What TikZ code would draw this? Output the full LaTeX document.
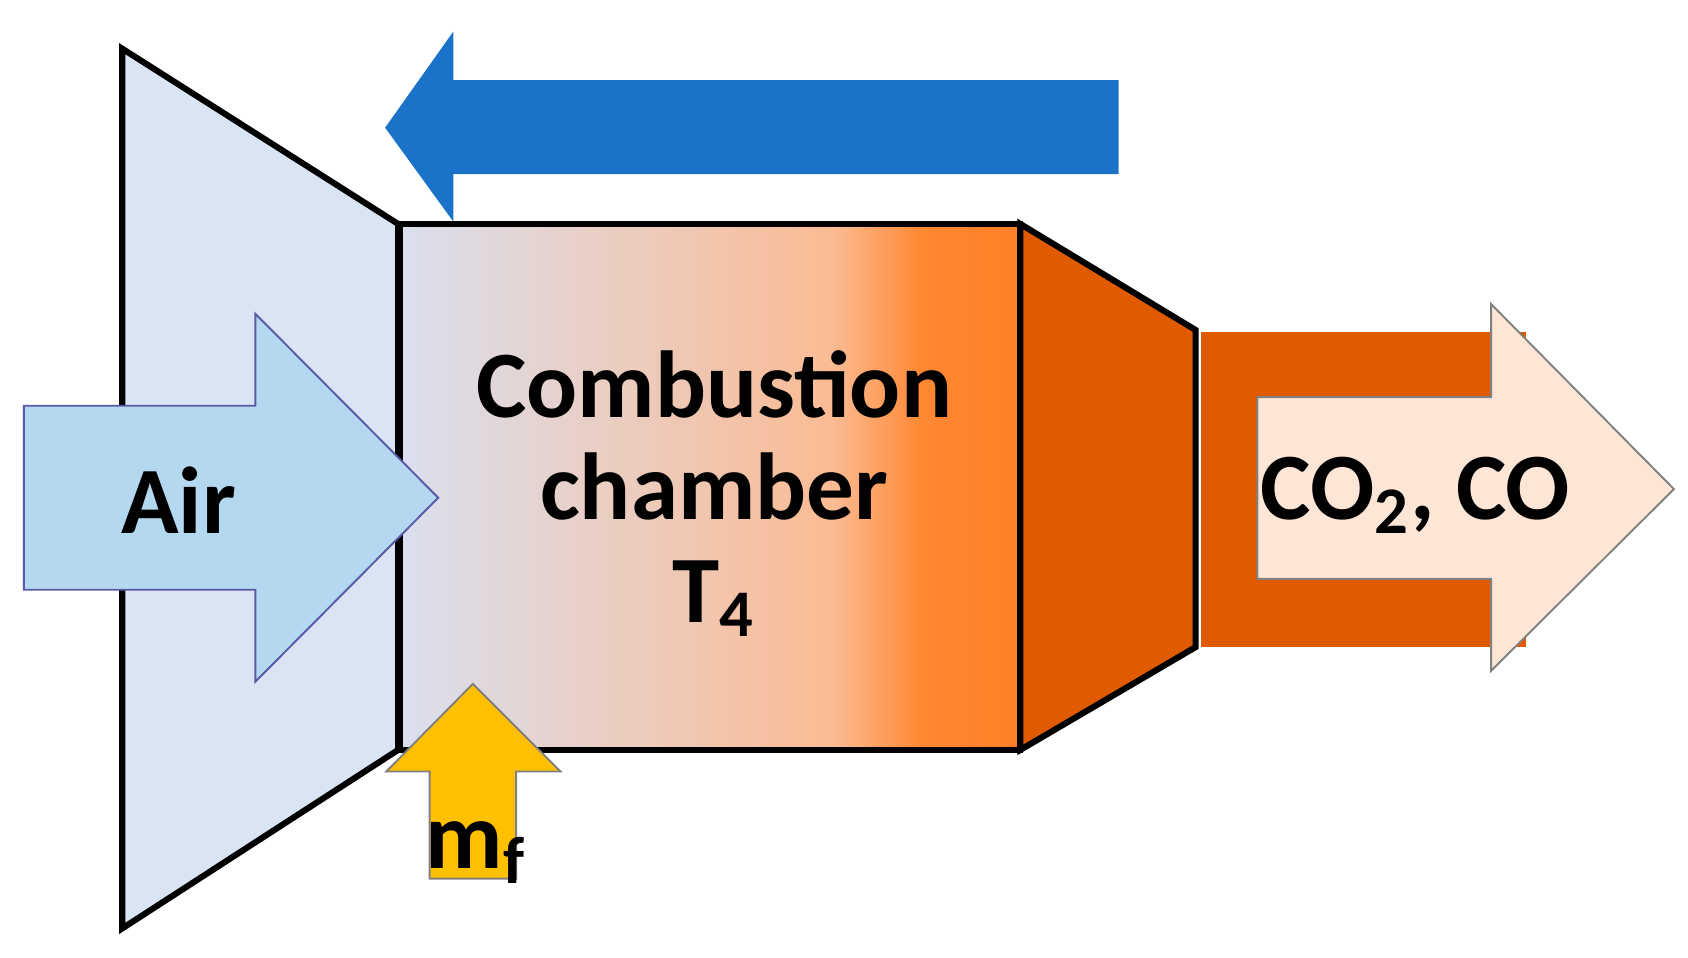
\documentclass[tikz,border=0pt]{standalone}
\usepackage{fontspec}
\setmainfont{Carlito}
\usepackage{tikz}
\definecolor{compblue}{HTML}{D9E5F3}
\definecolor{airblue}{HTML}{B4D8F0}
\definecolor{flowblue}{HTML}{1A73C8}
\definecolor{turbor}{HTML}{E05A00}
\definecolor{gaspeach}{HTML}{FEE6D6}
\definecolor{fuelyel}{HTML}{FFC000}
\definecolor{hotA}{HTML}{DADFEE}
\definecolor{hotB}{HTML}{FBBB93}
\definecolor{hotD}{HTML}{FF8833}
\definecolor{hotE}{HTML}{FF7F27}
\begin{document}
\begin{tikzpicture}[x=0.01cm,y=-0.01cm,
  part/.style={draw=black,line width=1.6pt,line join=miter},
  fat arrow/.style={draw=#1,line width=0.5pt},
  lbl/.style={font=\fontsize{25}{30}\selectfont\bfseries,align=center}
  ]
  \useasboundingbox (0,0) rectangle (1560,885);
  % compressor
  \draw[part,fill=compblue] (113,45) -- (368,207) -- (368,693) -- (113,858) -- cycle;
  % combustion chamber
  \shade[left color=hotA,right color=hotB] (370,207) rectangle (771,693);
  \shade[left color=hotB,right color=hotD] (770,207) rectangle (851,693);
  \shade[left color=hotD,right color=hotE] (850,207) rectangle (943,693);
  \draw[part] (370,207) rectangle (943,693);
  % turbine and exhaust
  \draw[part,fill=turbor] (943,207) -- (1105,305) -- (1105,598) -- (943,693) -- cycle;
  \fill[turbor] (1110,307) rectangle (1410,598);
  % arrows
  \draw[fat arrow=gray,fill=gaspeach] (1162,367) -- (1378,367) -- (1378,281) -- (1547,452)
    -- (1378,620) -- (1378,535) -- (1162,535) -- cycle;
  \draw[fat arrow=gray!70!blue,fill=airblue] (22,375) -- (236,375) -- (236,290) -- (405,460)
    -- (236,630) -- (236,545) -- (22,545) -- cycle;
  \draw[fat arrow=flowblue,fill=flowblue] (1033,75) -- (418,75) -- (418,32) -- (357,118)
    -- (418,202) -- (418,160) -- (1033,160) -- cycle;
  \draw[fat arrow=gray,fill=fuelyel] (397,812) -- (397,713) -- (357,713) -- (437,632)
    -- (518,713) -- (477,713) -- (477,812) -- cycle;
  % labels
  \node[lbl] (chamber) at (660,456) {Combustion\\[-3pt]chamber\\[-3pt]T\textsubscript{4}};
  \node[lbl] (air) at (165,462) {Air};
  \node[lbl] (gas) at (1308,458) {CO\textsubscript{2}, CO};
  \node[lbl] (fuel) at (440,788) {m\textsubscript{f}};
\end{tikzpicture}
\end{document}
